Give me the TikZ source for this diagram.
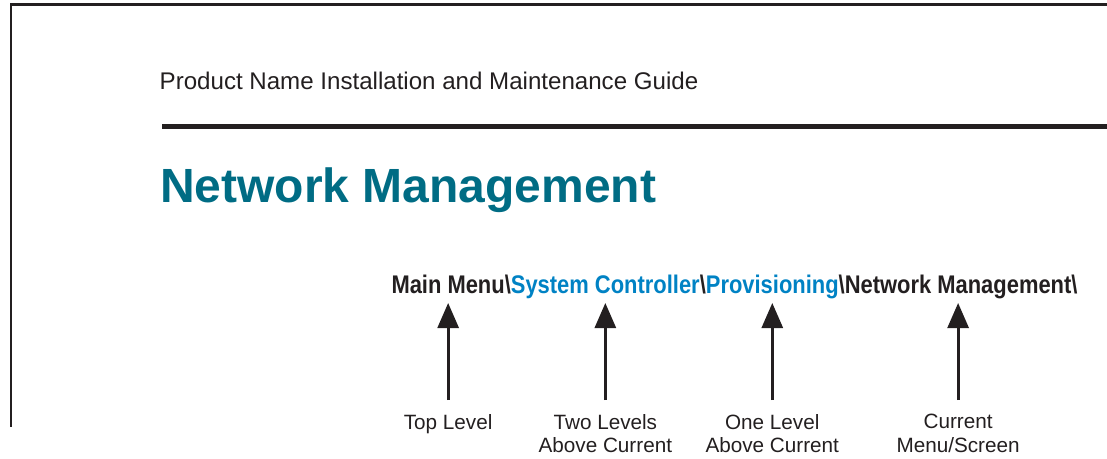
\documentclass[tikz,border=0pt]{standalone}
\usepackage{fontspec}
\setmainfont{Liberation Sans}
\newfontfamily\condfont[FakeStretch=0.86]{Liberation Sans}
\usetikzlibrary{arrows.meta}
\definecolor{ink}{RGB}{35,31,32}
\definecolor{teal}{RGB}{0,108,132}
\definecolor{crumbblue}{RGB}{0,130,196}
\begin{document}
\begin{tikzpicture}[x=1pt,y=-1pt,
  crumb/.style={inner sep=0pt, outer sep=0pt, anchor=base west, text depth=10pt, text=ink,
    font=\fontsize{25.5}{30}\condfont\bfseries},
  crumbhl/.style={crumb, text=crumbblue},
  lbl/.style={anchor=north, inner sep=0pt, outer sep=0pt, align=center, text=ink,
    font=\fontsize{20.7}{23.8}\selectfont},
  arr/.style={draw=ink, line width=2.8pt, -{Triangle[length=25pt,width=21pt]}, shorten <=14pt}]
\useasboundingbox (0,0) rectangle (1107,458);
% frame
\draw[ink, line width=2.4pt] (1107,4.5) -| (11,427);
% header
\node[anchor=base west, inner sep=0pt, text=ink, font=\fontsize{24.1}{28}\selectfont] (hdr) at (159.5,89) {Product Name Installation and Maintenance Guide};
\draw[ink, line width=5pt] (162,126) -- (1107,126);
\node[anchor=base west, inner sep=0pt, text=teal, font=\fontsize{48}{56}\bfseries] (title) at (160,202) {Network Management};
% breadcrumb
\node[crumb] (m1) at (391.5,293) {Main Menu};
\node[crumb] (b1) at (m1.base east) {\textbackslash};
\node[crumbhl] (m2) at (b1.base east) {System Controller};
\node[crumb] (b2) at (m2.base east) {\textbackslash};
\node[crumbhl] (m3) at (b2.base east) {Provisioning};
\node[crumb] (b3) at (m3.base east) {\textbackslash};
\node[crumb] (m4) at (b3.base east) {Network Management};
\node[crumb] (b4) at (m4.base east) {\textbackslash};
% labels
\node[lbl] (l1) at ([yshift=-111pt]m1.south) {Top Level};
\node[lbl] (l2) at ([yshift=-111pt]m2.south) {Two Levels\\Above Current};
\node[lbl] (l3) at ([yshift=-111pt]m3.south) {One Level\\Above Current};
\node[lbl] (l4) at ([yshift=-111pt]m4.south) {Current\\Menu/Screen};
% arrows
\draw[arr] (l1.north) -- (m1.south);
\draw[arr] (l2.north) -- (m2.south);
\draw[arr] (l3.north) -- (m3.south);
\draw[arr] (l4.north) -- (m4.south);
\end{tikzpicture}
\end{document}
